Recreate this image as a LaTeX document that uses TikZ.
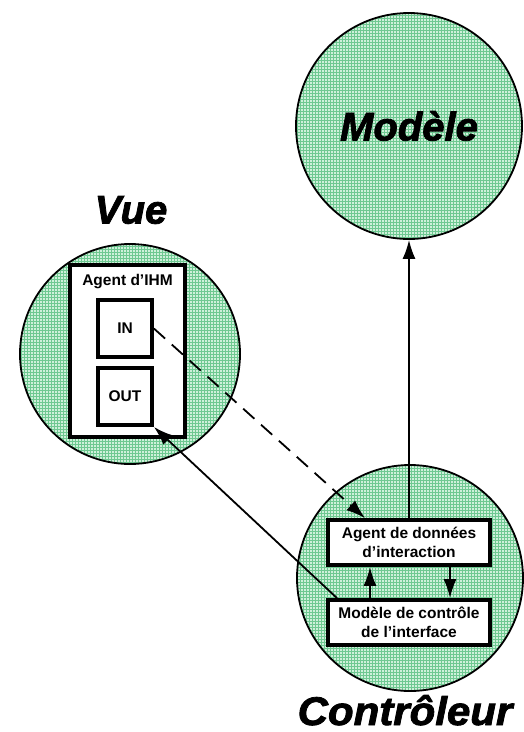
\documentclass[tikz,border=0pt]{standalone}
\usepackage{fontspec}
\setmainfont{Liberation Sans}
\newfontfamily\heavyfont[BoldItalicFeatures={FakeBold=2}]{Liberation Sans}
\usetikzlibrary{arrows.meta,patterns}
\definecolor{mint}{RGB}{206,240,218}
\definecolor{gridgreen}{RGB}{110,200,145}
\tikzset{
	ball/.style={circle, draw, line width=1.8pt, inner sep=0pt, minimum size=#1,
		preaction={fill=mint}, pattern=grid, pattern color=gridgreen},
	bigname/.style={font=\fontsize{40}{40}\selectfont\heavyfont\bfseries\itshape},
	box/.style={draw, line width=3.8pt, fill=white, align=center,
		font=\fontsize{15.5}{19}\selectfont\bfseries, inner sep=0pt},
	arr/.style={line width=1.8pt, -{Latex[length=19pt,width=13pt]}}
}
\begin{document}
\begin{tikzpicture}[x=1pt,y=-1pt]
		\useasboundingbox (0,0) rectangle (523,732);
		% les trois spheres
		\node[ball=226pt] (modele) at (409,126) {};
		\node[ball=220pt] (vue) at (130,354) {};
		\node[ball=226pt] (ctrl) at (410,578) {};
		\node[bigname] at (modele.center) {Modèle};
		\node[bigname] at (131,210) {Vue};
		\node[bigname, anchor=base, inner sep=0pt, xscale=1.05] at (405,725) {Contrôleur};
		
		% la vue
		\node[box, minimum width=115pt, minimum height=172pt] (ihm) at (127.5,351) {};
		\node[font=\fontsize{15.5}{19}\selectfont\bfseries, anchor=north] at ([yshift=-8pt]ihm.north) {Agent d’IHM};
		\node[box, minimum width=54pt, minimum height=57pt] (in) at (125,328.5) {IN};
		\node[box, minimum width=54pt, minimum height=57pt] (out) at (125,396.5) {OUT};
		
		% le controleur
		\node[box, minimum width=162pt, minimum height=45pt] (agent) at (409,542.5) {Agent de données\\d’interaction};
		\node[box, minimum width=162pt, minimum height=45pt] (mci) at (409,622.5) {Modèle de contrôle\\de l’interface};
		
		\draw[arr] (agent.north) -- (modele.south);
		\draw[arr] ([xshift=-39pt]mci.north) -- ([xshift=-39pt]agent.south);
		\draw[arr] ([xshift=41pt]agent.south) -- ([xshift=41pt]mci.north);
		\draw[arr, dash pattern=on 15pt off 9pt] (in.east) -- ([xshift=-44pt]agent.north);
		\draw[arr] ([xshift=-72pt]mci.north) -- (out.south east);
\end{tikzpicture}
\end{document}
